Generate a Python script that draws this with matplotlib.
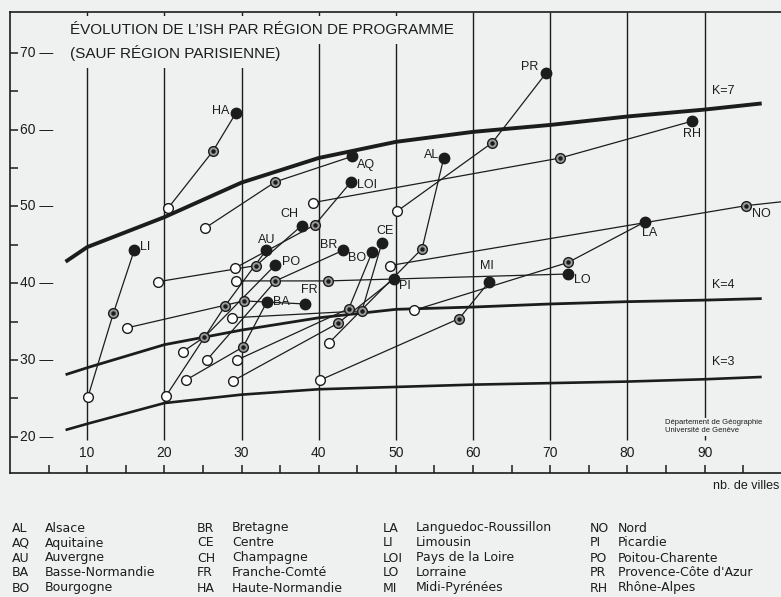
import matplotlib
matplotlib.use("Agg")
import matplotlib.pyplot as plt

# regions: nb. de villes (x) and ISH (y) at the three dates
codes = ["HA", "AQ", "LOI", "PR", "RH", "AL", "CH", "AU", "LI", "BR",
         "BO", "CE", "PO", "BA", "FR", "PI", "MI", "LO", "LA", "NO"]
x_a = [20.5, 25.3, 29.2, 50.2, 39.3, 41.3, 19.2, 20.2, 10.1, 25.5,
       29.4, 28.8, 22.4, 22.8, 15.2, 28.9, 40.2, 29.3, 52.4, 49.2]
y_a = [49.8, 47.2, 42.0, 49.4, 50.5, 32.2, 40.2, 25.3, 25.2, 30.0,
       30.0, 35.5, 31.1, 27.4, 34.2, 27.3, 27.4, 40.3, 36.5, 42.3]
x_b = [26.3, 34.4, 39.5, 62.5, 71.3, 53.4, 31.9, 27.9, 13.4, 34.4,
       43.9, 45.6, 25.2, 30.2, 30.3, 42.5, 58.2, 41.2, 72.3, 95.4]
y_b = [57.2, 53.2, 47.6, 58.3, 56.3, 44.5, 42.3, 37.1, 36.1, 40.3,
       36.7, 36.4, 33.0, 31.7, 37.7, 34.8, 35.4, 40.3, 42.7, 50.1]
x_c = [29.3, 44.3, 44.2, 69.5, 88.4, 56.2, 37.8, 33.2, 16.1, 43.2,
       46.9, 48.2, 34.4, 33.3, 38.2, 49.8, 62.1, 72.3, 82.3, 110.0]
y_c = [62.2, 56.5, 53.2, 67.4, 61.1, 56.3, 47.5, 44.3, 44.3, 44.3,
       44.0, 45.3, 42.4, 37.6, 37.3, 40.6, 40.2, 41.2, 48.0, 51.7]

# label placement next to the last point (offset in points, alignment)
lab_pos = {"HA": (-5, 1, "right"), "AQ": (4, -6, "left"), "LOI": (4, -2, "left"),
           "PR": (-6, 4, "right"), "RH": (0, -9, "center"), "AL": (-3, 2, "right"),
           "CH": (-9, 8, "center"), "AU": (0, 7, "center"), "LI": (4, 2, "left"),
           "BR": (-4, 4, "right"), "BO": (-4, -4, "right"), "CE": (2, 8, "center"),
           "PO": (5, 2, "left"), "BA": (4, 0, "left"), "FR": (3, 10, "center"),
           "PI": (3, -5, "left"), "MI": (-2, 11, "center"), "LO": (4, -4, "left"),
           "LA": (3, -8, "center"), "NO": (4, -6, "left")}

# curves of constant K
k_x = [7.2, 10, 20, 30, 40, 50, 60, 70, 80, 90, 97.4]
k7 = [42.8, 44.7, 48.6, 53.1, 56.3, 58.4, 59.7, 60.6, 61.7, 62.6, 63.4]
k4 = [28.1, 29.0, 32.0, 33.9, 35.5, 36.6, 36.9, 37.3, 37.6, 37.8, 38.0]
k3 = [20.9, 21.7, 24.4, 25.5, 26.2, 26.5, 26.8, 27.0, 27.2, 27.5, 27.8]

legend = [("AL", "Alsace"), ("AQ", "Aquitaine"), ("AU", "Auvergne"),
          ("BA", "Basse-Normandie"), ("BO", "Bourgogne"),
          ("BR", "Bretagne"), ("CE", "Centre"), ("CH", "Champagne"),
          ("FR", "Franche-Comté"), ("HA", "Haute-Normandie"),
          ("LA", "Languedoc-Roussillon"), ("LI", "Limousin"),
          ("LOI", "Pays de la Loire"), ("LO", "Lorraine"), ("MI", "Midi-Pyrénées"),
          ("NO", "Nord"), ("PI", "Picardie"), ("PO", "Poitou-Charente"),
          ("PR", "Provence-Côte d'Azur"), ("RH", "Rhône-Alpes")]

bg = "#eff1f1"
ink = "#1c1c1c"
plt.rcParams["font.family"] = ["Liberation Sans", "DejaVu Sans"]

fig = plt.figure(figsize=(7.81, 5.97), dpi=100, facecolor=bg)
ax = fig.add_axes([10 / 781, 124 / 597, 771 / 781, 461 / 597])
ax.set_facecolor(bg)
ax.set_xlim(0, 99.9)
ax.set_ylim(15.3, 75.3)
for s in ["left", "top", "bottom"]:
    ax.spines[s].set_color(ink)
    ax.spines[s].set_linewidth(1.2)
ax.spines["right"].set_visible(False)

ax.set_xticks(range(5, 100, 5))
ax.set_yticks(range(20, 75, 5))
ax.tick_params(direction="in", length=6, width=1.1, color=ink,
               labelbottom=False, labelleft=False)

# vertical guides
ax.vlines(range(10, 100, 10), 19.6, 75.3, color=ink, lw=1.0, zorder=1)

for v in range(10, 100, 10):
    ax.text(v, 17.9, str(v), ha="center", va="center", fontsize=10, color=ink)
for v in range(20, 80, 10):
    ax.text(0.013, v, str(v) + " \u2014", transform=ax.get_yaxis_transform(),
            ha="left", va="center", fontsize=10, color=ink,
            bbox=dict(fc=bg, ec="none", pad=0.5))

# K curves
ax.plot(k_x, k7, color=ink, lw=2.8, zorder=2, solid_capstyle="butt")
ax.plot(k_x, k4, color=ink, lw=2.0, zorder=2, solid_capstyle="butt")
ax.plot(k_x, k3, color=ink, lw=1.9, zorder=2, solid_capstyle="butt")
ax.text(91.0, 65.05, "K=7", fontsize=9, va="center", color=ink)
ax.text(91.0, 39.8, "K=4", fontsize=9, va="center", color=ink,
        bbox=dict(fc=bg, ec="none", pad=1))
ax.text(91.0, 29.8, "K=3", fontsize=9, va="center", color=ink,
        bbox=dict(fc=bg, ec="none", pad=1))

# trajectories
for i, c in enumerate(codes):
    ax.plot([x_a[i], x_b[i], x_c[i]], [y_a[i], y_b[i], y_c[i]],
            color=ink, lw=0.9, zorder=3)
    ax.plot(x_a[i], y_a[i], "o", ms=7, mfc="white", mec=ink, mew=1.0, zorder=4)
    ax.plot(x_b[i], y_b[i], "o", ms=7, mfc="#9a9a9a", mec=ink, mew=1.0, zorder=4)
    ax.plot(x_b[i], y_b[i], "o", ms=2.2, mfc=ink, mec=ink, zorder=5)
    if c != "NO":
        ax.plot(x_c[i], y_c[i], "o", ms=7.5, mfc=ink, mec=ink, zorder=4)
        lx, ly = x_c[i], y_c[i]
    else:
        lx, ly = x_b[i], y_b[i]
    dx, dy, ha = lab_pos[c]
    ax.annotate(c, (lx, ly), xytext=(dx, dy), textcoords="offset points",
                ha=ha, va="center", fontsize=9, color=ink, zorder=6)

# title
fig.text(70 / 781, 1 - 30 / 597, "ÉVOLUTION DE L\u2019ISH PAR RÉGION DE PROGRAMME",
         fontsize=11, color=ink, va="center", ha="left",
         bbox=dict(fc=bg, ec="none", pad=5))
fig.text(70 / 781, 1 - 53 / 597, "(SAUF RÉGION PARISIENNE)",
         fontsize=11, color=ink, va="center", ha="left",
         bbox=dict(fc=bg, ec="none", pad=5))

fig.text(665 / 781, 1 - 427 / 597, "Département de Géographie\nUniversité de Genève",
         fontsize=5.5, color=ink, va="center", ha="left", linespacing=1.2,
         bbox=dict(fc=bg, ec="none", pad=1))
fig.text(779 / 781, 1 - 486 / 597, "nb. de villes", fontsize=9, color=ink,
         va="center", ha="right")

# legend of region codes
col_code = [12, 197, 383, 590]
col_name = [45, 232, 416, 618]
row_y = [528, 543, 558, 573, 588]
for k, (code, name) in enumerate(legend):
    col, row = divmod(k, 5)
    fig.text(col_code[col] / 781, 1 - row_y[row] / 597, code, fontsize=9,
             family="DejaVu Sans", color=ink, va="center")
    fig.text(col_name[col] / 781, 1 - row_y[row] / 597, name, fontsize=9,
             family="DejaVu Sans", color=ink, va="center")

fig.savefig("out.png", dpi=100, facecolor=bg)
